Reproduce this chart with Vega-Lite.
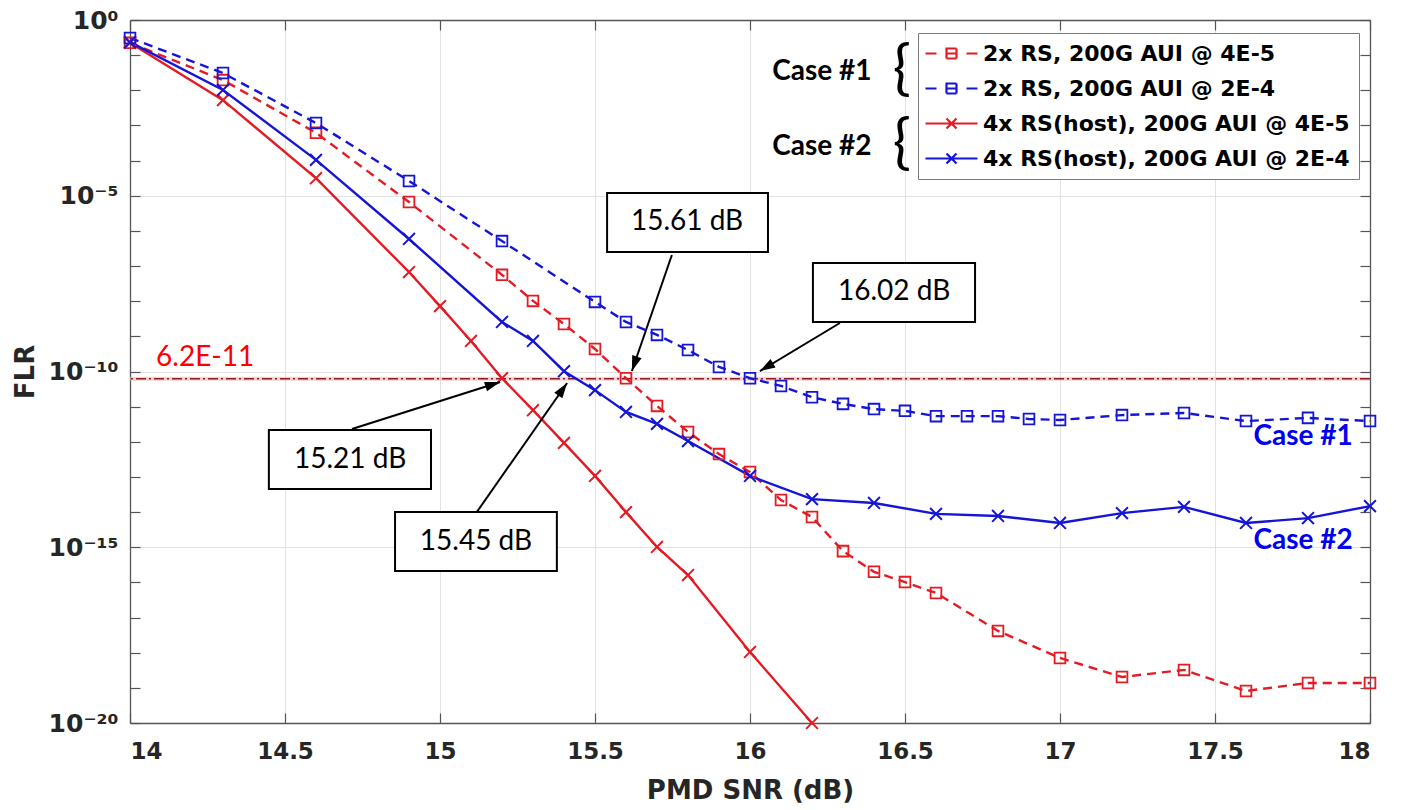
{
  "$schema": "https://vega.github.io/schema/vega-lite/v6.json",
  "width": 1240,
  "height": 703,
  "autosize": "none",
  "padding": {"left": 130, "top": 20, "right": 39, "bottom": 87},
  "background": "white",
  "config": {
    "view": {"stroke": null},
    "font": "DejaVu Sans",
    "axis": {"domainColor": "#555", "tickColor": "#555", "domainWidth": 1.3, "tickWidth": 1.2}
  },
  "datasets": {
    "series": [
      {"s": "2x RS, 200G AUI @ 4E-5", "snr": 14.0, "flr": 2.24e-1},
      {"s": "2x RS, 200G AUI @ 4E-5", "snr": 14.3, "flr": 1.95e-2},
      {"s": "2x RS, 200G AUI @ 4E-5", "snr": 14.6, "flr": 6.17e-4},
      {"s": "2x RS, 200G AUI @ 4E-5", "snr": 14.9, "flr": 6.61e-6},
      {"s": "2x RS, 200G AUI @ 4E-5", "snr": 15.2, "flr": 5.62e-8},
      {"s": "2x RS, 200G AUI @ 4E-5", "snr": 15.3, "flr": 1.02e-8},
      {"s": "2x RS, 200G AUI @ 4E-5", "snr": 15.4, "flr": 2.24e-9},
      {"s": "2x RS, 200G AUI @ 4E-5", "snr": 15.5, "flr": 4.37e-10},
      {"s": "2x RS, 200G AUI @ 4E-5", "snr": 15.6, "flr": 6.46e-11},
      {"s": "2x RS, 200G AUI @ 4E-5", "snr": 15.7, "flr": 1.05e-11},
      {"s": "2x RS, 200G AUI @ 4E-5", "snr": 15.8, "flr": 1.91e-12},
      {"s": "2x RS, 200G AUI @ 4E-5", "snr": 15.9, "flr": 4.47e-13},
      {"s": "2x RS, 200G AUI @ 4E-5", "snr": 16.0, "flr": 1.38e-13},
      {"s": "2x RS, 200G AUI @ 4E-5", "snr": 16.1, "flr": 2.2e-14},
      {"s": "2x RS, 200G AUI @ 4E-5", "snr": 16.2, "flr": 7.24e-15},
      {"s": "2x RS, 200G AUI @ 4E-5", "snr": 16.3, "flr": 7.76e-16},
      {"s": "2x RS, 200G AUI @ 4E-5", "snr": 16.4, "flr": 2.0e-16},
      {"s": "2x RS, 200G AUI @ 4E-5", "snr": 16.5, "flr": 1.02e-16},
      {"s": "2x RS, 200G AUI @ 4E-5", "snr": 16.6, "flr": 5.01e-17},
      {"s": "2x RS, 200G AUI @ 4E-5", "snr": 16.8, "flr": 4.17e-18},
      {"s": "2x RS, 200G AUI @ 4E-5", "snr": 17.0, "flr": 7.08e-19},
      {"s": "2x RS, 200G AUI @ 4E-5", "snr": 17.2, "flr": 2.04e-19},
      {"s": "2x RS, 200G AUI @ 4E-5", "snr": 17.4, "flr": 3.24e-19},
      {"s": "2x RS, 200G AUI @ 4E-5", "snr": 17.6, "flr": 8.13e-20},
      {"s": "2x RS, 200G AUI @ 4E-5", "snr": 17.8, "flr": 1.38e-19},
      {"s": "2x RS, 200G AUI @ 4E-5", "snr": 18.0, "flr": 1.38e-19},

      {"s": "2x RS, 200G AUI @ 2E-4", "snr": 14.0, "flr": 3.09e-1},
      {"s": "2x RS, 200G AUI @ 2E-4", "snr": 14.3, "flr": 3.09e-2},
      {"s": "2x RS, 200G AUI @ 2E-4", "snr": 14.6, "flr": 1.17e-3},
      {"s": "2x RS, 200G AUI @ 2E-4", "snr": 14.9, "flr": 2.63e-5},
      {"s": "2x RS, 200G AUI @ 2E-4", "snr": 15.2, "flr": 5.13e-7},
      {"s": "2x RS, 200G AUI @ 2E-4", "snr": 15.5, "flr": 9.55e-9},
      {"s": "2x RS, 200G AUI @ 2E-4", "snr": 15.6, "flr": 2.57e-9},
      {"s": "2x RS, 200G AUI @ 2E-4", "snr": 15.7, "flr": 1.10e-9},
      {"s": "2x RS, 200G AUI @ 2E-4", "snr": 15.8, "flr": 4.07e-10},
      {"s": "2x RS, 200G AUI @ 2E-4", "snr": 15.9, "flr": 1.35e-10},
      {"s": "2x RS, 200G AUI @ 2E-4", "snr": 16.0, "flr": 6.46e-11},
      {"s": "2x RS, 200G AUI @ 2E-4", "snr": 16.1, "flr": 3.89e-11},
      {"s": "2x RS, 200G AUI @ 2E-4", "snr": 16.2, "flr": 1.86e-11},
      {"s": "2x RS, 200G AUI @ 2E-4", "snr": 16.3, "flr": 1.20e-11},
      {"s": "2x RS, 200G AUI @ 2E-4", "snr": 16.4, "flr": 8.51e-12},
      {"s": "2x RS, 200G AUI @ 2E-4", "snr": 16.5, "flr": 7.59e-12},
      {"s": "2x RS, 200G AUI @ 2E-4", "snr": 16.6, "flr": 5.37e-12},
      {"s": "2x RS, 200G AUI @ 2E-4", "snr": 16.7, "flr": 5.37e-12},
      {"s": "2x RS, 200G AUI @ 2E-4", "snr": 16.8, "flr": 5.37e-12},
      {"s": "2x RS, 200G AUI @ 2E-4", "snr": 16.9, "flr": 4.47e-12},
      {"s": "2x RS, 200G AUI @ 2E-4", "snr": 17.0, "flr": 4.17e-12},
      {"s": "2x RS, 200G AUI @ 2E-4", "snr": 17.2, "flr": 5.75e-12},
      {"s": "2x RS, 200G AUI @ 2E-4", "snr": 17.4, "flr": 6.61e-12},
      {"s": "2x RS, 200G AUI @ 2E-4", "snr": 17.6, "flr": 3.89e-12},
      {"s": "2x RS, 200G AUI @ 2E-4", "snr": 17.8, "flr": 4.79e-12},
      {"s": "2x RS, 200G AUI @ 2E-4", "snr": 18.0, "flr": 3.89e-12},

      {"s": "4x RS(host), 200G AUI @ 4E-5", "snr": 14.0, "flr": 2.24e-1},
      {"s": "4x RS(host), 200G AUI @ 4E-5", "snr": 14.3, "flr": 5.25e-3},
      {"s": "4x RS(host), 200G AUI @ 4E-5", "snr": 14.6, "flr": 3.16e-5},
      {"s": "4x RS(host), 200G AUI @ 4E-5", "snr": 14.9, "flr": 6.76e-8},
      {"s": "4x RS(host), 200G AUI @ 4E-5", "snr": 15.0, "flr": 7.24e-9},
      {"s": "4x RS(host), 200G AUI @ 4E-5", "snr": 15.1, "flr": 7.41e-10},
      {"s": "4x RS(host), 200G AUI @ 4E-5", "snr": 15.2, "flr": 6.46e-11},
      {"s": "4x RS(host), 200G AUI @ 4E-5", "snr": 15.3, "flr": 7.94e-12},
      {"s": "4x RS(host), 200G AUI @ 4E-5", "snr": 15.4, "flr": 9.33e-13},
      {"s": "4x RS(host), 200G AUI @ 4E-5", "snr": 15.5, "flr": 1.07e-13},
      {"s": "4x RS(host), 200G AUI @ 4E-5", "snr": 15.6, "flr": 1.0e-14},
      {"s": "4x RS(host), 200G AUI @ 4E-5", "snr": 15.7, "flr": 1.02e-15},
      {"s": "4x RS(host), 200G AUI @ 4E-5", "snr": 15.8, "flr": 1.62e-16},
      {"s": "4x RS(host), 200G AUI @ 4E-5", "snr": 16.0, "flr": 1.05e-18},
      {"s": "4x RS(host), 200G AUI @ 4E-5", "snr": 16.2, "flr": 1.0e-20},

      {"s": "4x RS(host), 200G AUI @ 2E-4", "snr": 14.0, "flr": 2.34e-1},
      {"s": "4x RS(host), 200G AUI @ 2E-4", "snr": 14.3, "flr": 1.02e-2},
      {"s": "4x RS(host), 200G AUI @ 2E-4", "snr": 14.6, "flr": 1.05e-4},
      {"s": "4x RS(host), 200G AUI @ 2E-4", "snr": 14.9, "flr": 5.89e-7},
      {"s": "4x RS(host), 200G AUI @ 2E-4", "snr": 15.2, "flr": 2.57e-9},
      {"s": "4x RS(host), 200G AUI @ 2E-4", "snr": 15.3, "flr": 7.41e-10},
      {"s": "4x RS(host), 200G AUI @ 2E-4", "snr": 15.4, "flr": 1.02e-10},
      {"s": "4x RS(host), 200G AUI @ 2E-4", "snr": 15.5, "flr": 2.95e-11},
      {"s": "4x RS(host), 200G AUI @ 2E-4", "snr": 15.6, "flr": 7.08e-12},
      {"s": "4x RS(host), 200G AUI @ 2E-4", "snr": 15.7, "flr": 3.24e-12},
      {"s": "4x RS(host), 200G AUI @ 2E-4", "snr": 15.8, "flr": 1.05e-12},
      {"s": "4x RS(host), 200G AUI @ 2E-4", "snr": 16.0, "flr": 1.07e-13},
      {"s": "4x RS(host), 200G AUI @ 2E-4", "snr": 16.2, "flr": 2.34e-14},
      {"s": "4x RS(host), 200G AUI @ 2E-4", "snr": 16.4, "flr": 1.82e-14},
      {"s": "4x RS(host), 200G AUI @ 2E-4", "snr": 16.6, "flr": 8.91e-15},
      {"s": "4x RS(host), 200G AUI @ 2E-4", "snr": 16.8, "flr": 7.76e-15},
      {"s": "4x RS(host), 200G AUI @ 2E-4", "snr": 17.0, "flr": 4.90e-15},
      {"s": "4x RS(host), 200G AUI @ 2E-4", "snr": 17.2, "flr": 9.33e-15},
      {"s": "4x RS(host), 200G AUI @ 2E-4", "snr": 17.4, "flr": 1.41e-14},
      {"s": "4x RS(host), 200G AUI @ 2E-4", "snr": 17.6, "flr": 4.90e-15},
      {"s": "4x RS(host), 200G AUI @ 2E-4", "snr": 17.8, "flr": 6.76e-15},
      {"s": "4x RS(host), 200G AUI @ 2E-4", "snr": 18.0, "flr": 1.48e-14}
    ],
    "threshold": [{"flr": 6.2e-11}],
    "boxes": [
      {"lab": "15.61 dB", "x1": 15.539, "x2": 16.058, "y1": 1.2e-5, "y2": 2.51e-7, "tx": 15.797, "ty": 1.79e-6},
      {"lab": "16.02 dB", "x1": 16.203, "x2": 16.726, "y1": 1.22e-7, "y2": 2.56e-9, "tx": 16.465, "ty": 1.83e-8},
      {"lab": "15.21 dB", "x1": 14.448, "x2": 14.971, "y1": 2.17e-12, "y2": 4.54e-14, "tx": 14.71, "ty": 3.03e-13},
      {"lab": "15.45 dB", "x1": 14.855, "x2": 15.377, "y1": 1.01e-14, "y2": 2.11e-16, "tx": 15.116, "ty": 1.41e-15}
    ],
    "arrows": [
      {"x0": 15.748, "y0": 2.06e-7, "x": 15.619, "y": 1.03e-10},
      {"x0": 16.29, "y0": 2.4e-9, "x": 16.032, "y": 1.03e-10},
      {"x0": 14.716, "y0": 2.31e-12, "x": 15.194, "y": 5.02e-11},
      {"x0": 15.119, "y0": 1.01e-14, "x": 15.41, "y": 4.71e-11}
    ],
    "notes": [
      {"t": "6.2E-11", "x": 14.084, "y": 2.42e-10, "k": "thr"},
      {"t": "Case #1", "x": 16.232, "y": 3.32e-2, "k": "group"},
      {"t": "Case #2", "x": 16.232, "y": 2.44e-4, "k": "group"},
      {"t": "{", "x": 16.49, "y": 3.78e-2, "k": "brace"},
      {"t": "{", "x": 16.49, "y": 2.97e-4, "k": "brace"},
      {"t": "Case #1", "x": 17.784, "y": 1.37e-12, "k": "curve"},
      {"t": "Case #2", "x": 17.784, "y": 1.51e-15, "k": "curve"}
    ]
  },
  "resolve": {"axis": {"x": "independent", "y": "independent"}},
  "layer": [
    {
      "data": {"name": "threshold"},
      "mark": {"type": "rule", "stroke": "#f3b3b3", "strokeWidth": 4, "opacity": 0.6},
      "encoding": {
        "y": {"field": "flr", "type": "quantitative", "scale": {"type": "log", "domain": [1e-20, 1], "nice": false},
          "axis": {"orient": "right", "values": [1, 1e-1, 1e-2, 1e-3, 1e-4, 1e-5, 1e-6, 1e-7, 1e-8, 1e-9, 1e-10, 1e-11, 1e-12, 1e-13, 1e-14, 1e-15, 1e-16, 1e-17, 1e-18, 1e-19, 1e-20],
            "labels": false, "grid": false, "tickSize": -10, "title": null}}
      }
    },
    {
      "data": {"name": "threshold"},
      "mark": {"type": "rule", "stroke": "#8e1a26", "strokeWidth": 1.6, "strokeDash": [10, 3, 2, 3]},
      "encoding": {
        "y": {"field": "flr", "type": "quantitative", "scale": {"type": "log", "domain": [1e-20, 1], "nice": false}, "axis": null}
      }
    },
    {
      "data": {"name": "series"},
      "transform": [{"filter": "indexof(datum.s, '2x') == 0"}],
      "mark": {"type": "line", "strokeWidth": 2.4, "strokeDash": [9, 6]},
      "encoding": {
        "x": {"field": "snr", "type": "quantitative", "scale": {"domain": [14, 18], "nice": false, "zero": false},
          "axis": {"orient": "bottom", "values": [14, 14.5, 15, 15.5, 16, 16.5, 17, 17.5, 18], "labelExpr": "'' + datum.value",
            "labelOverlap": false, "tickSize": -10, "grid": true, "gridColor": "#e2e2e2", "gridWidth": 1,
            "labelFont": "DejaVu Sans", "labelFontWeight": "bold", "labelFontSize": 23, "labelColor": "#262626", "labelPadding": 27,
            "title": "PMD SNR (dB)", "titleFont": "DejaVu Sans", "titleFontWeight": "bold", "titleFontSize": 26, "titleColor": "#262626", "titlePadding": 14}},
        "y": {"field": "flr", "type": "quantitative", "scale": {"type": "log", "domain": [1e-20, 1], "nice": false},
          "axis": {"orient": "left", "values": [1, 1e-1, 1e-2, 1e-3, 1e-4, 1e-5, 1e-6, 1e-7, 1e-8, 1e-9, 1e-10, 1e-11, 1e-12, 1e-13, 1e-14, 1e-15, 1e-16, 1e-17, 1e-18, 1e-19, 1e-20],
            "labelExpr": "round(log(datum.value)/LN10) == 0 ? '10⁰' : round(log(datum.value)/LN10) == -5 ? '10⁻⁵' : round(log(datum.value)/LN10) == -10 ? '10⁻¹⁰' : round(log(datum.value)/LN10) == -15 ? '10⁻¹⁵' : round(log(datum.value)/LN10) == -20 ? '10⁻²⁰' : ''",
            "labelOverlap": false, "tickSize": -10, "grid": true, "gridColor": "#e2e2e2",
            "gridOpacity": {"condition": {"test": "round(log(datum.value)/LN10) % 5 == 0", "value": 1}, "value": 0},
            "labelFont": "DejaVu Sans", "labelFontWeight": "bold", "labelFontSize": 25, "labelColor": "#262626", "labelPadding": 22,
            "title": "FLR", "titleFont": "DejaVu Sans", "titleFontWeight": "bold", "titleFontSize": 26, "titleColor": "#262626", "titlePadding": 10}},
        "color": {"field": "s", "type": "nominal",
          "scale": {"domain": ["2x RS, 200G AUI @ 4E-5", "2x RS, 200G AUI @ 2E-4", "4x RS(host), 200G AUI @ 4E-5", "4x RS(host), 200G AUI @ 2E-4"],
            "range": ["#e31b23", "#1515d6", "#e31b23", "#1515d6"]},
          "legend": {"title": null, "orient": "none", "legendX": 788, "legendY": 13, "fillColor": "white", "strokeColor": "#7a7a7a",
            "padding": 9, "rowPadding": 12, "symbolSize": 400, "labelOffset": 33, "labelLimit": 600,
            "labelFont": "DejaVu Sans", "labelFontWeight": "bold", "labelFontSize": 22, "labelColor": "#000000",
            "encode": {"symbols": {"update": {
              "shape": {"signal": "indexof(datum.value, '2x') == 0 ? 'M-1.3,0L-0.2,0M2.8,0L3.9,0M0.8,0L1.8,0M0.8,-0.5L1.8,-0.5L1.8,0.5L0.8,0.5Z' : 'M-1.3,0L3.9,0M0.8,-0.5L1.8,0.5M0.8,0.5L1.8,-0.5'"},
              "stroke": {"signal": "indexof(datum.value, '2E-4') > 0 ? '#1515d6' : '#e31b23'"},
              "fill": {"value": "transparent"},
              "strokeDash": {"value": [1, 0]},
              "strokeWidth": {"value": 2.2},
              "opacity": {"value": 1},
              "size": {"value": 400}
            }}}}}
      }
    },
    {
      "data": {"name": "series"},
      "transform": [{"filter": "indexof(datum.s, '4x') == 0"}],
      "mark": {"type": "line", "strokeWidth": 2.4},
      "encoding": {
        "x": {"field": "snr", "type": "quantitative", "scale": {"domain": [14, 18], "nice": false, "zero": false}, "axis": null},
        "y": {"field": "flr", "type": "quantitative", "scale": {"type": "log", "domain": [1e-20, 1], "nice": false}, "axis": null},
        "color": {"field": "s", "type": "nominal"}
      }
    },
    {
      "data": {"name": "series"},
      "transform": [{"filter": "datum.s == '2x RS, 200G AUI @ 4E-5'"}],
      "mark": {"type": "point", "shape": "square", "filled": false, "strokeWidth": 1.8, "size": 115, "opacity": 1, "color": "#e31b23"},
      "encoding": {
        "x": {"field": "snr", "type": "quantitative", "scale": {"domain": [14, 18], "nice": false, "zero": false}, "axis": null},
        "y": {"field": "flr", "type": "quantitative", "scale": {"type": "log", "domain": [1e-20, 1], "nice": false}, "axis": null}
      }
    },
    {
      "data": {"name": "series"},
      "transform": [{"filter": "datum.s == '2x RS, 200G AUI @ 2E-4'"}],
      "mark": {"type": "point", "shape": "square", "filled": false, "strokeWidth": 1.8, "size": 115, "opacity": 1, "color": "#1515d6"},
      "encoding": {
        "x": {"field": "snr", "type": "quantitative", "scale": {"domain": [14, 18], "nice": false, "zero": false}, "axis": null},
        "y": {"field": "flr", "type": "quantitative", "scale": {"type": "log", "domain": [1e-20, 1], "nice": false}, "axis": null}
      }
    },
    {
      "data": {"name": "series"},
      "transform": [{"filter": "datum.s == '4x RS(host), 200G AUI @ 4E-5'"}],
      "mark": {"type": "point", "shape": "M-1,-1L1,1M-1,1L1,-1", "filled": false, "strokeWidth": 2, "size": 140, "opacity": 1, "color": "#e31b23"},
      "encoding": {
        "x": {"field": "snr", "type": "quantitative", "scale": {"domain": [14, 18], "nice": false, "zero": false}, "axis": null},
        "y": {"field": "flr", "type": "quantitative", "scale": {"type": "log", "domain": [1e-20, 1], "nice": false}, "axis": null}
      }
    },
    {
      "data": {"name": "series"},
      "transform": [{"filter": "datum.s == '4x RS(host), 200G AUI @ 2E-4'"}],
      "mark": {"type": "point", "shape": "M-1,-1L1,1M-1,1L1,-1", "filled": false, "strokeWidth": 2, "size": 140, "opacity": 1, "color": "#1515d6"},
      "encoding": {
        "x": {"field": "snr", "type": "quantitative", "scale": {"domain": [14, 18], "nice": false, "zero": false}, "axis": null},
        "y": {"field": "flr", "type": "quantitative", "scale": {"type": "log", "domain": [1e-20, 1], "nice": false}, "axis": null}
      }
    },
    {
      "data": {"name": "boxes"},
      "mark": {"type": "rect", "fill": "white", "stroke": "black", "strokeWidth": 2},
      "encoding": {
        "x": {"field": "x1", "type": "quantitative", "scale": {"domain": [14, 18], "nice": false, "zero": false},
          "axis": {"orient": "top", "values": [14, 14.5, 15, 15.5, 16, 16.5, 17, 17.5, 18], "labels": false, "grid": false, "tickSize": -10, "title": null}},
        "x2": {"field": "x2"},
        "y": {"field": "y1", "type": "quantitative", "scale": {"type": "log", "domain": [1e-20, 1], "nice": false}, "axis": null},
        "y2": {"field": "y2"}
      }
    },
    {
      "data": {"name": "arrows"},
      "mark": {"type": "rule", "color": "black", "strokeWidth": 2},
      "encoding": {
        "x": {"field": "x0", "type": "quantitative", "scale": {"domain": [14, 18], "nice": false, "zero": false}, "axis": null},
        "y": {"field": "y0", "type": "quantitative", "scale": {"type": "log", "domain": [1e-20, 1], "nice": false}, "axis": null},
        "x2": {"field": "x"},
        "y2": {"field": "y"}
      }
    },
    {
      "data": {"name": "arrows"},
      "mark": {"type": "point", "filled": true, "color": "black", "opacity": 1, "size": 324, "shape": "M0,0L-0.55,1.7L0.55,1.7Z",
        "angle": {"expr": "atan2(scale('x', datum.x) - scale('x', datum.x0), scale('y', datum.y0) - scale('y', datum.y)) * 180 / PI"}},
      "encoding": {
        "x": {"field": "x", "type": "quantitative", "scale": {"domain": [14, 18], "nice": false, "zero": false}, "axis": null},
        "y": {"field": "y", "type": "quantitative", "scale": {"type": "log", "domain": [1e-20, 1], "nice": false}, "axis": null}
      }
    },
    {
      "data": {"name": "boxes"},
      "mark": {"type": "text", "font": "Lato", "fontSize": 28, "align": "center", "baseline": "middle", "color": "black"},
      "encoding": {
        "x": {"field": "tx", "type": "quantitative", "scale": {"domain": [14, 18], "nice": false, "zero": false}, "axis": null},
        "y": {"field": "ty", "type": "quantitative", "scale": {"type": "log", "domain": [1e-20, 1], "nice": false}, "axis": null},
        "text": {"field": "lab"}
      }
    },
    {
      "data": {"name": "notes"},
      "transform": [{"filter": "datum.k == 'thr'"}],
      "mark": {"type": "text", "font": "Lato", "fontSize": 28, "align": "left", "baseline": "middle", "color": "#ff0000"},
      "encoding": {
        "x": {"field": "x", "type": "quantitative", "scale": {"domain": [14, 18], "nice": false, "zero": false}, "axis": null},
        "y": {"field": "y", "type": "quantitative", "scale": {"type": "log", "domain": [1e-20, 1], "nice": false}, "axis": null},
        "text": {"field": "t"}
      }
    },
    {
      "data": {"name": "notes"},
      "transform": [{"filter": "datum.k == 'group'"}],
      "mark": {"type": "text", "font": "Lato", "fontSize": 28, "fontWeight": "bold", "align": "center", "baseline": "middle", "color": "black"},
      "encoding": {
        "x": {"field": "x", "type": "quantitative", "scale": {"domain": [14, 18], "nice": false, "zero": false}, "axis": null},
        "y": {"field": "y", "type": "quantitative", "scale": {"type": "log", "domain": [1e-20, 1], "nice": false}, "axis": null},
        "text": {"field": "t"}
      }
    },
    {
      "data": {"name": "notes"},
      "transform": [{"filter": "datum.k == 'brace'"}],
      "mark": {"type": "text", "font": "Lato", "fontSize": 60, "align": "center", "baseline": "middle", "color": "black"},
      "encoding": {
        "x": {"field": "x", "type": "quantitative", "scale": {"domain": [14, 18], "nice": false, "zero": false}, "axis": null},
        "y": {"field": "y", "type": "quantitative", "scale": {"type": "log", "domain": [1e-20, 1], "nice": false}, "axis": null},
        "text": {"field": "t"}
      }
    },
    {
      "data": {"name": "notes"},
      "transform": [{"filter": "datum.k == 'curve'"}],
      "mark": {"type": "text", "font": "Lato", "fontSize": 28, "fontWeight": "bold", "align": "center", "baseline": "middle", "color": "#0000f0"},
      "encoding": {
        "x": {"field": "x", "type": "quantitative", "scale": {"domain": [14, 18], "nice": false, "zero": false}, "axis": null},
        "y": {"field": "y", "type": "quantitative", "scale": {"type": "log", "domain": [1e-20, 1], "nice": false}, "axis": null},
        "text": {"field": "t"}
      }
    }
  ]
}
